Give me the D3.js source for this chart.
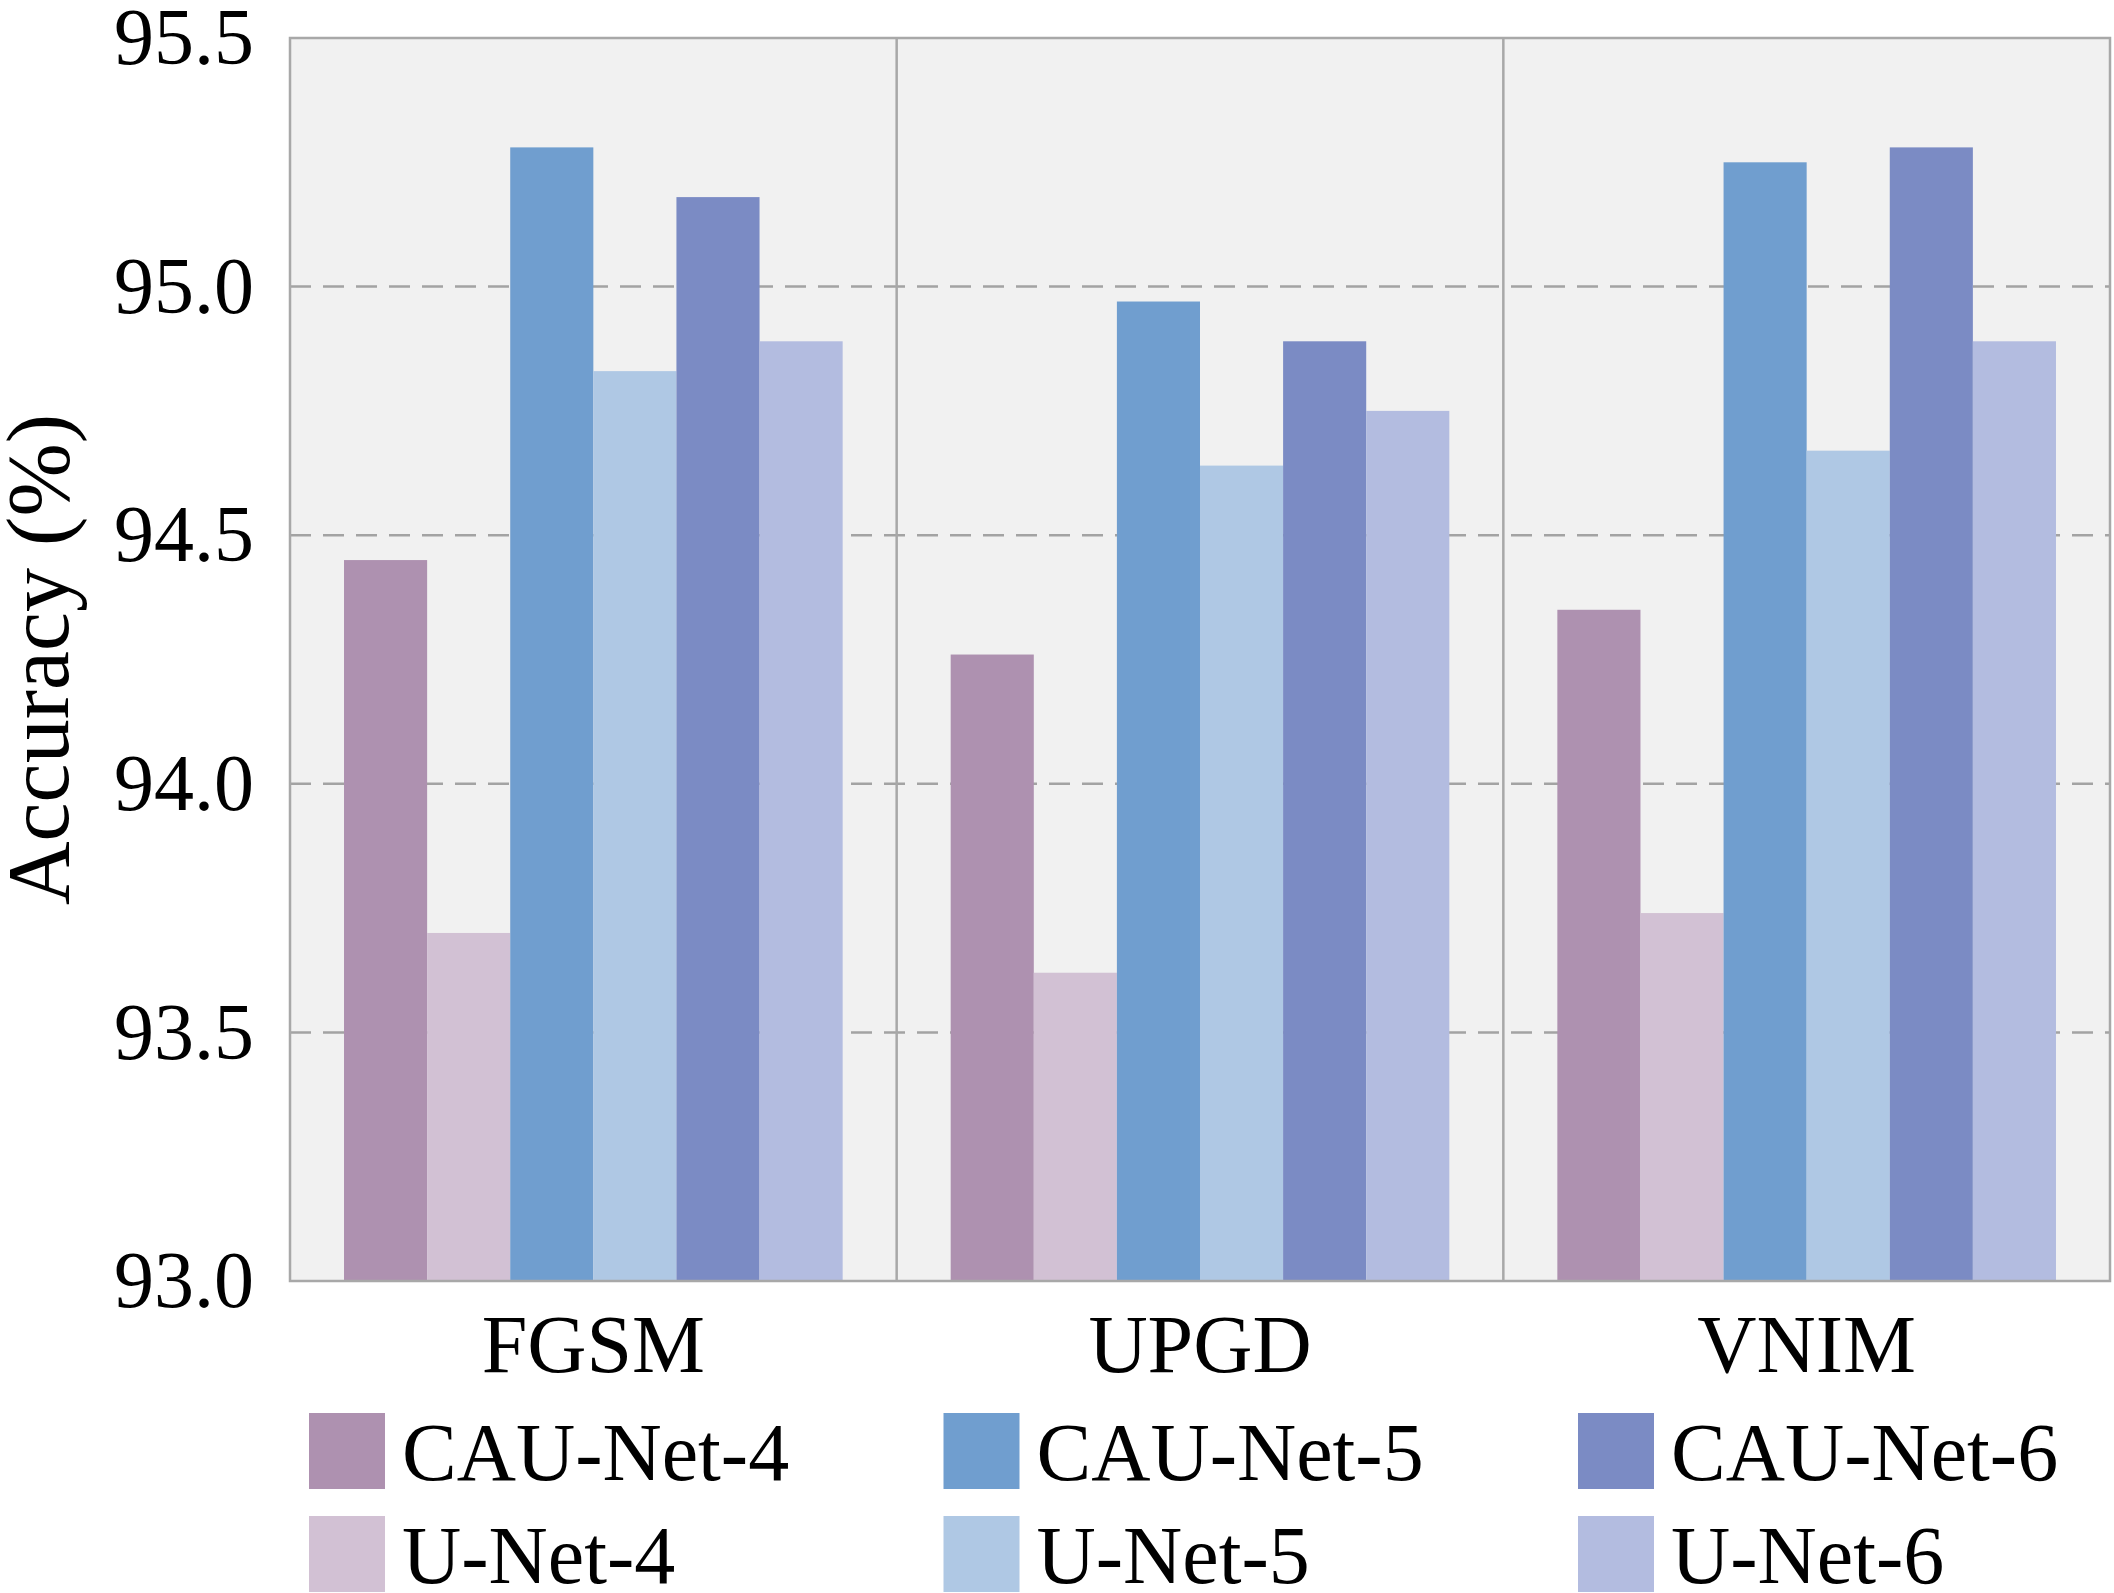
<!DOCTYPE html>
<html>
<head>
<meta charset="utf-8">
<script src="https://cdn.jsdelivr.net/npm/d3@7"></script>
<style>
  body { margin: 0; background: #fff; }
  svg { display: block; font-family: "Liberation Serif", "Times New Roman", serif; }
</style>
</head>
<body>
<div id="chart"></div>
<script>
// data
const attacks = ["FGSM", "UPGD", "VNIM"];
const models = ["CAU-Net-4", "U-Net-4", "CAU-Net-5", "U-Net-5", "CAU-Net-6", "U-Net-6"];
const colors = ["#ae91b0", "#d2c1d4", "#709ecf", "#afc8e4", "#7b8bc4", "#b3bce0"];
const cau4 = [94.45, 94.26, 94.35];
const unet4 = [93.70, 93.62, 93.74];
const cau5 = [95.28, 94.97, 95.25];
const unet5 = [94.83, 94.64, 94.67];
const cau6 = [95.18, 94.89, 95.28];
const unet6 = [94.89, 94.75, 94.89];
const yTicks = [93.0, 93.5, 94.0, 94.5, 95.0, 95.5];

const series = [cau4, unet4, cau5, unet5, cau6, unet6];

const W = 2114, H = 1593;
const margin = { left: 290, right: 4, top: 38, bottom: 312 };
const iw = W - margin.left - margin.right;
const ih = H - margin.top - margin.bottom;

const svg = d3.select("#chart").append("svg")
    .attr("width", W)
    .attr("height", H);

const g = svg.append("g").attr("transform", `translate(${margin.left},${margin.top})`);

const x0 = d3.scaleBand().domain(attacks).range([0, iw]);
const x1 = d3.scaleBand().domain(models).range([0, x0.bandwidth()]).paddingOuter(0.65);
const y = d3.scaleLinear().domain([93, 95.5]).range([ih, 0]);
const color = d3.scaleOrdinal().domain(models).range(colors);

// plot background
g.append("rect")
    .attr("width", iw)
    .attr("height", ih)
    .attr("fill", "#f1f1f1");

// dashed grid
g.append("g")
    .selectAll("line")
    .data(yTicks.slice(1, -1))
    .join("line")
    .attr("x1", 0)
    .attr("x2", iw)
    .attr("y1", d => y(d))
    .attr("y2", d => y(d))
    .attr("stroke", "#a3a3a3")
    .attr("stroke-width", 2.5)
    .attr("stroke-dasharray", "21,12");

// bars
const rows = [];
attacks.forEach((a, i) => {
    models.forEach((m, j) => rows.push({ attack: a, model: m, value: series[j][i] }));
});

g.append("g")
    .selectAll("rect")
    .data(rows)
    .join("rect")
    .attr("x", d => x0(d.attack) + x1(d.model))
    .attr("y", d => y(d.value))
    .attr("width", x1.bandwidth())
    .attr("height", d => y(93) - y(d.value))
    .attr("fill", d => color(d.model));

// group dividers
g.append("g")
    .selectAll("line")
    .data(attacks.slice(1))
    .join("line")
    .attr("x1", d => x0(d))
    .attr("x2", d => x0(d))
    .attr("y1", 0)
    .attr("y2", ih)
    .attr("stroke", "#a8a8a8")
    .attr("stroke-width", 2.5);

// frame
g.append("rect")
    .attr("width", iw)
    .attr("height", ih)
    .attr("fill", "none")
    .attr("stroke", "#a8a8a8")
    .attr("stroke-width", 2.5);

// y axis labels
const yAxis = g.append("g")
    .call(d3.axisLeft(y).tickValues(yTicks).tickFormat(d3.format(".1f")).tickSize(0).tickPadding(36));
yAxis.select(".domain").remove();
yAxis.selectAll("text")
    .attr("font-size", 80)
    .attr("font-family", "Liberation Serif")
    .attr("fill", "#000")
    .attr("dy", "0.32em");

// x axis labels
const xAxis = g.append("g")
    .attr("transform", `translate(0,${ih})`)
    .call(d3.axisBottom(x0).tickSize(0).tickPadding(0));
xAxis.select(".domain").remove();
xAxis.selectAll("text")
    .attr("font-size", 82)
    .attr("font-family", "Liberation Serif")
    .attr("fill", "#000")
    .attr("dy", null)
    .attr("y", 91);

// y title
svg.append("text")
    .attr("transform", `translate(68,${margin.top + ih / 2}) rotate(-90)`)
    .attr("text-anchor", "middle")
    .attr("font-size", 88)
    .text("Accuracy (%)");

// legend: 3 columns, CAU row on top, U-Net row below
const legend = svg.append("g");
const item = legend.selectAll("g")
    .data(models)
    .join("g")
    .attr("transform", (d, i) => `translate(${309 + Math.floor(i / 2) * 634.5},${1413 + (i % 2) * 103})`);

item.append("rect")
    .attr("width", 76)
    .attr("height", 76)
    .attr("fill", d => color(d));

item.append("text")
    .attr("x", 93)
    .attr("y", 67)
    .attr("font-size", 82)
    .text(d => d);
</script>
</body>
</html>
